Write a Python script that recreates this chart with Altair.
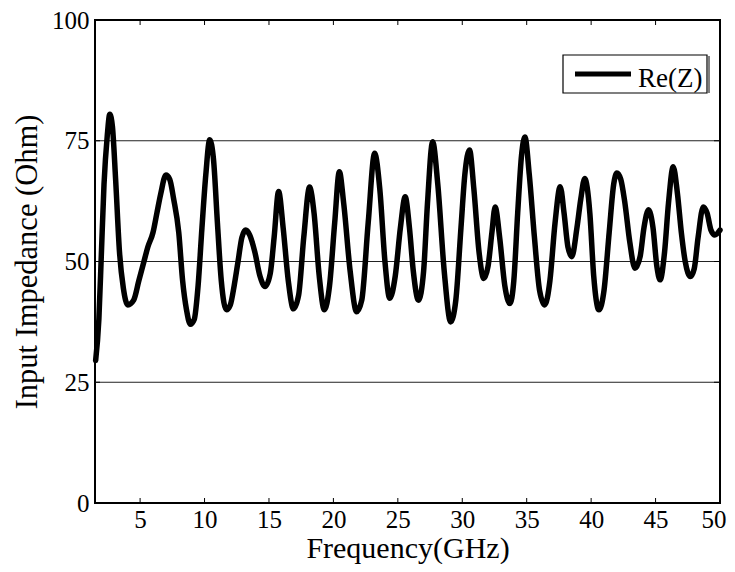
import altair as alt
import pandas as pd

# Re(Z) curve: frequency (GHz) and impedance (Ohm)
freq = [1.55, 1.8, 2.0, 2.2, 2.45, 2.65, 2.85, 3.1, 3.4, 3.7, 4.05, 4.5, 4.9, 5.3, 5.6, 6.0,
        6.3, 6.6, 7.0, 7.3, 7.6, 8.0, 8.3, 8.6, 8.9, 9.2, 9.5, 9.8, 10.1, 10.4, 10.7, 11.0,
        11.3, 11.7, 12.0, 12.3, 12.6, 12.9, 13.2, 13.5, 13.9, 14.3, 14.7, 15.1, 15.4, 15.75,
        16.1, 16.5, 16.9, 17.3, 17.7, 18.15, 18.5, 18.9, 19.3, 19.7, 20.1, 20.46, 20.8, 21.3,
        21.8, 22.2, 22.7, 23.2, 23.6, 24.0, 24.37, 24.8, 25.2, 25.57, 25.9, 26.2, 26.6, 27.0,
        27.3, 27.7, 28.1, 28.6, 29.1, 29.5, 29.9, 30.2, 30.56, 30.9, 31.3, 31.67, 32.0, 32.3,
        32.55, 32.9, 33.3, 33.7, 34.0, 34.3, 34.6, 34.86, 35.2, 35.6, 36.0, 36.4, 36.8, 37.2,
        37.6, 37.9, 38.2, 38.5, 38.9, 39.2, 39.5, 39.9, 40.2, 40.6, 41.0, 41.4, 41.75, 42.0,
        42.3, 42.6, 43.0, 43.4, 43.8, 44.1, 44.45, 44.8, 45.1, 45.35, 45.7, 46.0, 46.37, 46.7,
        47.0, 47.3, 47.7, 48.0, 48.3, 48.7, 49.0, 49.3, 49.6, 50.0]
rez = [29.5, 38, 52, 66, 76, 80.5, 78, 67, 52, 44.5, 41, 42, 46, 50, 53, 56,
       60, 64, 67.9, 67, 63, 56, 46, 40, 37, 38, 45, 57, 68, 75.2, 71, 58,
       46, 40, 41, 45, 50, 55, 56.5, 55.5, 52, 47, 44.8, 47.5, 55, 64.5,
       57, 46, 40.2, 43, 55, 65.4, 60, 47, 40, 45, 58, 68.6, 62, 48,
       39.6, 42, 58, 72.4, 65, 50, 42.4, 47, 57, 63.4, 57, 48, 42, 48,
       62, 74.8, 66, 48, 37.5, 42, 57, 68, 73.1, 65, 52, 46.5, 49, 56,
       61.3, 55, 45, 41.3, 46, 60, 72, 75.8, 68, 55, 44, 41, 46, 58,
       65.5, 60, 53, 51, 57, 63, 67.2, 60, 47, 40, 44, 56, 66, 68.3,
       67, 62.5, 54, 48.6, 51, 57, 60.7, 57, 49, 46.2, 52, 62, 69.6, 64,
       56, 50, 46.9, 48.5, 55, 61.3, 60, 56.5, 55.5, 56.5]

x_ticks = [5, 10, 15, 20, 25, 30, 35, 40, 45, 50]
y_ticks = [0, 25, 50, 75, 100]
inner_x = [5, 10, 15, 20, 25, 30, 35, 40, 45]
inner_y = [25, 50, 75]
series_name = "Re(Z)"

W, H = 625, 483
FONT = "'Liberation Serif', 'Times New Roman', 'DejaVu Serif', serif"

curve = pd.DataFrame({"f": freq, "z": rez})
xt = pd.DataFrame({"xt": inner_x})
yt = pd.DataFrame({"yt": inner_y})
leg = pd.DataFrame({"label": [series_name]})

xs = alt.Scale(domain=[1.5, 50], nice=False, zero=False)
ys = alt.Scale(domain=[0, 100], nice=False)

line = alt.Chart(curve).mark_line(
    color="black", strokeWidth=5.5, interpolate="monotone", strokeJoin="round", strokeCap="round"
).encode(
    x=alt.X("f:Q", scale=xs, axis=alt.Axis(
        values=x_ticks, title="Frequency(GHz)", ticks=False, domain=False, grid=False,
        labelFont=FONT, labelFontSize=25, labelColor="black", labelPadding=4,
        labelFlush=True, labelFlushOffset=6,
        titleFont=FONT, titleFontSize=30, titleFontWeight="normal", titleColor="black",
        titleY=54, titleBaseline="alphabetic")),
    y=alt.Y("z:Q", scale=ys, axis=alt.Axis(
        values=y_ticks, title="Input Impedance (Ohm)", ticks=False, domain=False, grid=False,
        labelFont=FONT, labelFontSize=25, labelColor="black", labelPadding=6,
        titleFont=FONT, titleFontSize=30.5, titleFontWeight="normal", titleColor="black",
        titlePadding=9, labelFlush=False)),
)

grid = alt.Chart(yt).mark_rule(color="#222", strokeWidth=1).encode(
    y=alt.Y("yt:Q", scale=ys), x=alt.value(0), x2=alt.value(W))

tick_b = alt.Chart(xt).mark_rule(color="black", strokeWidth=1).encode(
    x=alt.X("xt:Q", scale=xs), y=alt.value(H), y2=alt.value(H - 5))
tick_t = alt.Chart(xt).mark_rule(color="black", strokeWidth=1).encode(
    x=alt.X("xt:Q", scale=xs), y=alt.value(0), y2=alt.value(5))
tick_l = alt.Chart(yt).mark_rule(color="black", strokeWidth=1).encode(
    y=alt.Y("yt:Q", scale=ys), x=alt.value(0), x2=alt.value(5))
tick_r = alt.Chart(yt).mark_rule(color="black", strokeWidth=1).encode(
    y=alt.Y("yt:Q", scale=ys), x=alt.value(W), x2=alt.value(W - 6))

leg_box = alt.Chart(leg).mark_rect(fill="white", stroke="black", strokeWidth=1.2).encode(
    x=alt.value(468), x2=alt.value(612), y=alt.value(35), y2=alt.value(73))
leg_edge = alt.Chart(leg).mark_rule(color="black", strokeWidth=1).encode(
    x=alt.value(614), y=alt.value(36), y2=alt.value(73))
leg_line = alt.Chart(leg).mark_rule(color="black", strokeWidth=5).encode(
    x=alt.value(480), x2=alt.value(536), y=alt.value(54))
leg_text = alt.Chart(leg).mark_text(
    font=FONT, fontSize=27, color="black", align="left", baseline="alphabetic"
).encode(x=alt.value(543), y=alt.value(66.5), text="label:N")

chart = alt.layer(
    grid, tick_b, tick_t, tick_l, tick_r, line, leg_box, leg_edge, leg_line, leg_text
).properties(
    width=W, height=H,
    autosize=alt.AutoSizeParams(type="none"),
    padding={"left": 87, "top": 12, "right": 7, "bottom": 61},
    background="white",
).configure_view(stroke="black", strokeWidth=2)

chart.save("out.html", embed_options={"renderer": "svg", "actions": False})
